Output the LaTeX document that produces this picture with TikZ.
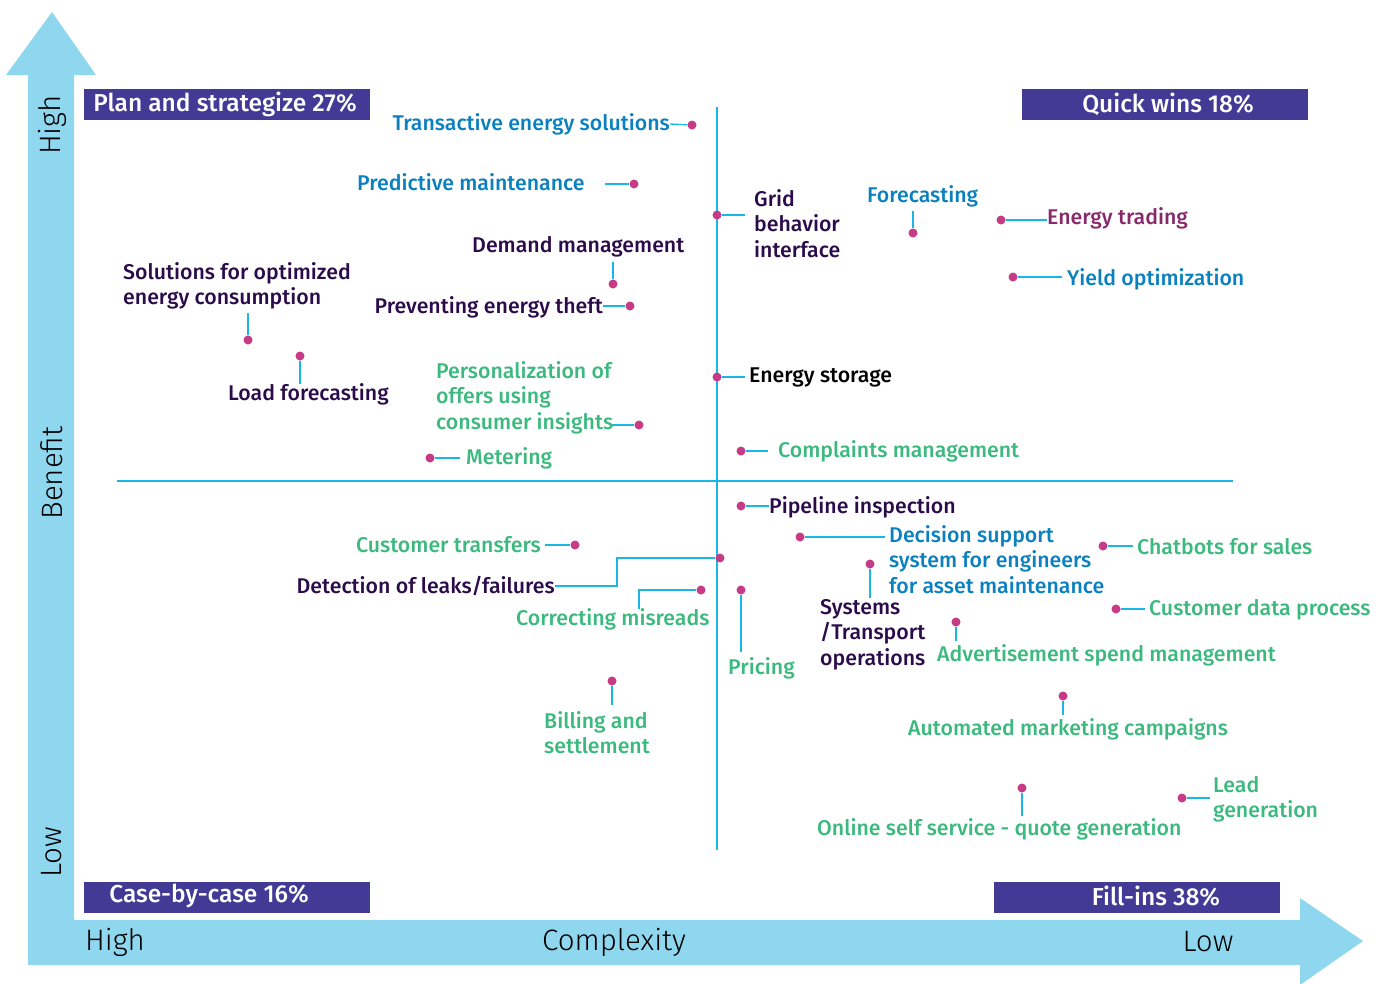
\documentclass[tikz,border=0pt]{standalone}
\usepackage{fontspec}
\setmainfont{Fira Sans}[UprightFont=* Medium, BoldFont=* SemiBold]
\newfontfamily\lightfont{Fira Sans Light}
\definecolor{arrowblue}{HTML}{8FD7EF}
\definecolor{axiscyan}{HTML}{1AB6E6}
\definecolor{dotmag}{HTML}{C73A86}
\definecolor{boxpurple}{HTML}{433A96}
\definecolor{darkp}{HTML}{2B0B4A}
\definecolor{blueT}{HTML}{0A80BE}
\definecolor{greenT}{HTML}{3CB97E}
\definecolor{magT}{HTML}{862A6B}
\pgfdeclarelayer{bg}
\pgfsetlayers{bg,main}
\tikzset{
  lab/.style={inner sep=0pt, font=\fontsize{21.3}{25.5}\selectfont, align=left},
  dot/.style={circle, fill=dotmag, inner sep=0pt, minimum size=9pt},
  conn/.style={draw=axiscyan, line width=1.3pt},
  axisline/.style={draw=axiscyan, line width=2.6pt},
  qbox/.style={fill=boxpurple, inner sep=0pt, minimum width=286pt, minimum height=31pt, anchor=north west},
  qtext/.style={text=white, inner sep=0pt, font=\fontsize{24.5}{28}\selectfont},
  axl/.style={inner sep=0pt, font=\lightfont\fontsize{29.5}{33}\selectfont, text=black}
}
\begin{document}
\begin{tikzpicture}[x=1pt, y=-1pt]
\useasboundingbox (0,0) rectangle (1384,983);
% big axis arrows
\fill[arrowblue] (28,75) -- (6,75) -- (52,12) -- (96,75) -- (74,75) -- (74,920)
  -- (1300,920) -- (1300,898) -- (1363,941) -- (1300,985) -- (1300,965) -- (28,965) -- cycle;
\node[axl, rotate=90] (yhigh) at (52,125) {High};
\node[axl, rotate=90] (ybenefit) at (52,473) {Benefit};
\node[axl, rotate=90] (ylow) at (52,852) {Low};
\node[axl] (xhigh) at (115,942) {High};
\node[axl] (xcomp) at (614,942) {Complexity};
\node[axl] (xlow) at (1208,942) {Low};
% quadrant boxes
\node[qbox] (b1) at (84,89) {};
\node[qtext] at (225,104) {Plan and strategize 27\%};
\node[qbox] (b2) at (1022,89) {};
\node[qtext] at (1168,104) {Quick wins 18\%};
\node[qbox] (b3) at (84,882) {};
\node[qtext] at (209,896) {Case-by-case 16\%};
\node[qbox] (b4) at (994,882) {};
\node[qtext] at (1156,896) {Fill-ins 38\%};
% axes
\coordinate (vt) at (717,107);
\coordinate (vb) at (717,850);
\coordinate (hl) at (117,481);
\coordinate (hr) at (1233,481);
\begin{pgfonlayer}{bg}
\draw[axisline] (vt) -- (vb);
\draw[axisline] (hl) -- (hr);
\end{pgfonlayer}
% ---- items ----
\node[lab, text=blueT, anchor=east] (t1) at (670,124) {Transactive energy solutions};
\node[dot] (d1) at (692,125) {};
\node[lab, text=blueT, anchor=west] (t2) at (357,182) {Predictive maintenance};
\coordinate (c2) at (605,184);
\node[dot] (d2) at (634,184) {};
\node[lab, text=darkp, anchor=north west] (t3) at (754,189) {Grid\\behavior\\interface};
\node[dot] (d3) at (717,215) {};
\coordinate (c3) at (745,215);
\node[lab, text=blueT, anchor=west] (t4) at (867,196) {Forecasting};
\node[dot] (d4) at (913,233) {};
\coordinate (c4) at (913,211);
\node[lab, text=magT, anchor=west] (t5) at (1047,218) {Energy trading};
\node[dot] (d5) at (1001,220) {};
\node[lab, text=blueT, anchor=west] (t6) at (1067,279) {Yield optimization};
\node[dot] (d6) at (1013,277) {};
\coordinate (c6) at (1062,277);
\node[lab, text=darkp, anchor=west] (t7) at (472,247) {Demand management};
\node[dot] (d7) at (613,284) {};
\coordinate (c7) at (613,262);
\node[lab, text=darkp, anchor=east] (t8) at (603,307) {Preventing energy theft};
\node[dot] (d8) at (630,306) {};
\node[lab, text=darkp, anchor=north west] (t9) at (123,262) {Solutions for optimized\\energy consumption};
\node[dot] (d9) at (248,340) {};
\coordinate (c9) at (248,313);
\node[lab, text=darkp, anchor=west] (t10) at (228,394) {Load forecasting};
\node[dot] (d10) at (300,356) {};
\coordinate (c10) at (300,384);
\node[lab, text=greenT, anchor=north west] (t11) at (436,361) {Personalization of\\offers using\\consumer insights};
\node[dot] (d11) at (639,425) {};
\coordinate (c11) at (611,425);
\node[lab, text=greenT, anchor=west] (t12) at (466,458) {Metering};
\node[dot] (d12) at (430,458) {};
\coordinate (c12) at (460,458);
\node[lab, text=black, anchor=west] (t13) at (749,377) {Energy storage};
\node[dot] (d13) at (717,377) {};
\coordinate (c13) at (745,377);
\node[lab, text=greenT, anchor=west] (t14) at (778,451) {Complaints management};
\node[dot] (d14) at (741,451) {};
\coordinate (c14) at (768,451);
\node[lab, text=darkp, anchor=west] (t15) at (769,507) {Pipeline inspection};
\node[dot] (d15) at (741,506) {};
\node[lab, text=blueT, anchor=north west] (t16) at (889,525) {Decision support\\system for engineers\\for asset maintenance};
\node[dot] (d16) at (800,537) {};
\coordinate (c16) at (885,537);
\node[lab, text=darkp, anchor=north west] (t17) at (820,599) {Systems\\/Transport\\operations};
\node[dot] (d17) at (870,564) {};
\coordinate (c17) at (870,598);
\node[lab, text=greenT, anchor=west] (t18) at (1137,547) {Chatbots for sales};
\node[dot] (d18) at (1103,546) {};
\coordinate (c18) at (1133,546);
\node[lab, text=greenT, anchor=west] (t19) at (1149,610) {Customer data process};
\node[dot] (d19) at (1116,609) {};
\coordinate (c19) at (1145,609);
\node[lab, text=greenT, anchor=west] (t20) at (937,655) {Advertisement spend management};
\node[dot] (d20) at (956,622) {};
\coordinate (c20) at (956,641);
\node[lab, text=greenT, anchor=west] (t21) at (908,729) {Automated marketing campaigns};
\node[dot] (d21) at (1063,696) {};
\coordinate (c21) at (1063,715);
\node[lab, text=greenT, anchor=west] (t22) at (817,829) {Online self service - quote generation};
\node[dot] (d22) at (1022,788) {};
\coordinate (c22) at (1022,816);
\node[lab, text=greenT, anchor=north west] (t23) at (1213,776) {Lead\\generation};
\node[dot] (d23) at (1182,798) {};
\coordinate (c23) at (1210,798);
\node[lab, text=greenT, anchor=east] (t24) at (541,545) {Customer transfers};
\coordinate (c24) at (545,545);
\node[dot] (d24) at (575,545) {};
\node[lab, text=darkp, anchor=east] (t25) at (555,586) {Detection of leaks/failures};
\coordinate (c25) at (617,586);
\node[dot] (d25) at (720,558) {};
\node[lab, text=greenT, anchor=west] (t26) at (516,619) {Correcting misreads};
\node[dot] (d26) at (701,590) {};
\coordinate (c26) at (639,609);
\node[lab, text=greenT, anchor=west] (t27) at (728,668) {Pricing};
\node[dot] (d27) at (741,590) {};
\coordinate (c27) at (741,652);
\node[lab, text=greenT, anchor=north west] (t28) at (544,711) {Billing and\\settlement};
\node[dot] (d28) at (612,681) {};
\coordinate (c28) at (612,705);
\begin{pgfonlayer}{bg}
\draw[conn] (t1.east) -- (d1);
\draw[conn] (c2) -- (d2);
\draw[conn] (d3) -- (c3);
\draw[conn] (c4) -- (d4);
\draw[conn] (d5) -- (t5.west |- d5);
\draw[conn] (d6) -- (c6);
\draw[conn] (c7) -- (d7);
\draw[conn] (t8.east |- d8) -- (d8);
\draw[conn] (c9) -- (d9);
\draw[conn] (d10) -- (c10);
\draw[conn] (c11) -- (d11);
\draw[conn] (d12) -- (c12);
\draw[conn] (d13) -- (c13);
\draw[conn] (d14) -- (c14);
\draw[conn] (d15) -- (t15.west |- d15);
\draw[conn] (d16) -- (c16);
\draw[conn] (d17) -- (c17);
\draw[conn] (d18) -- (c18);
\draw[conn] (d19) -- (c19);
\draw[conn] (d20) -- (c20);
\draw[conn] (d21) -- (c21);
\draw[conn] (d22) -- (c22);
\draw[conn] (d23) -- (c23);
\draw[conn] (c24) -- (d24);
\draw[conn] (t25.east) -- (c25) |- (d25);
\draw[conn] (d26) -| (c26);
\draw[conn] (d27) -- (c27);
\draw[conn] (d28) -- (c28);
\end{pgfonlayer}
\end{tikzpicture}
\end{document}
